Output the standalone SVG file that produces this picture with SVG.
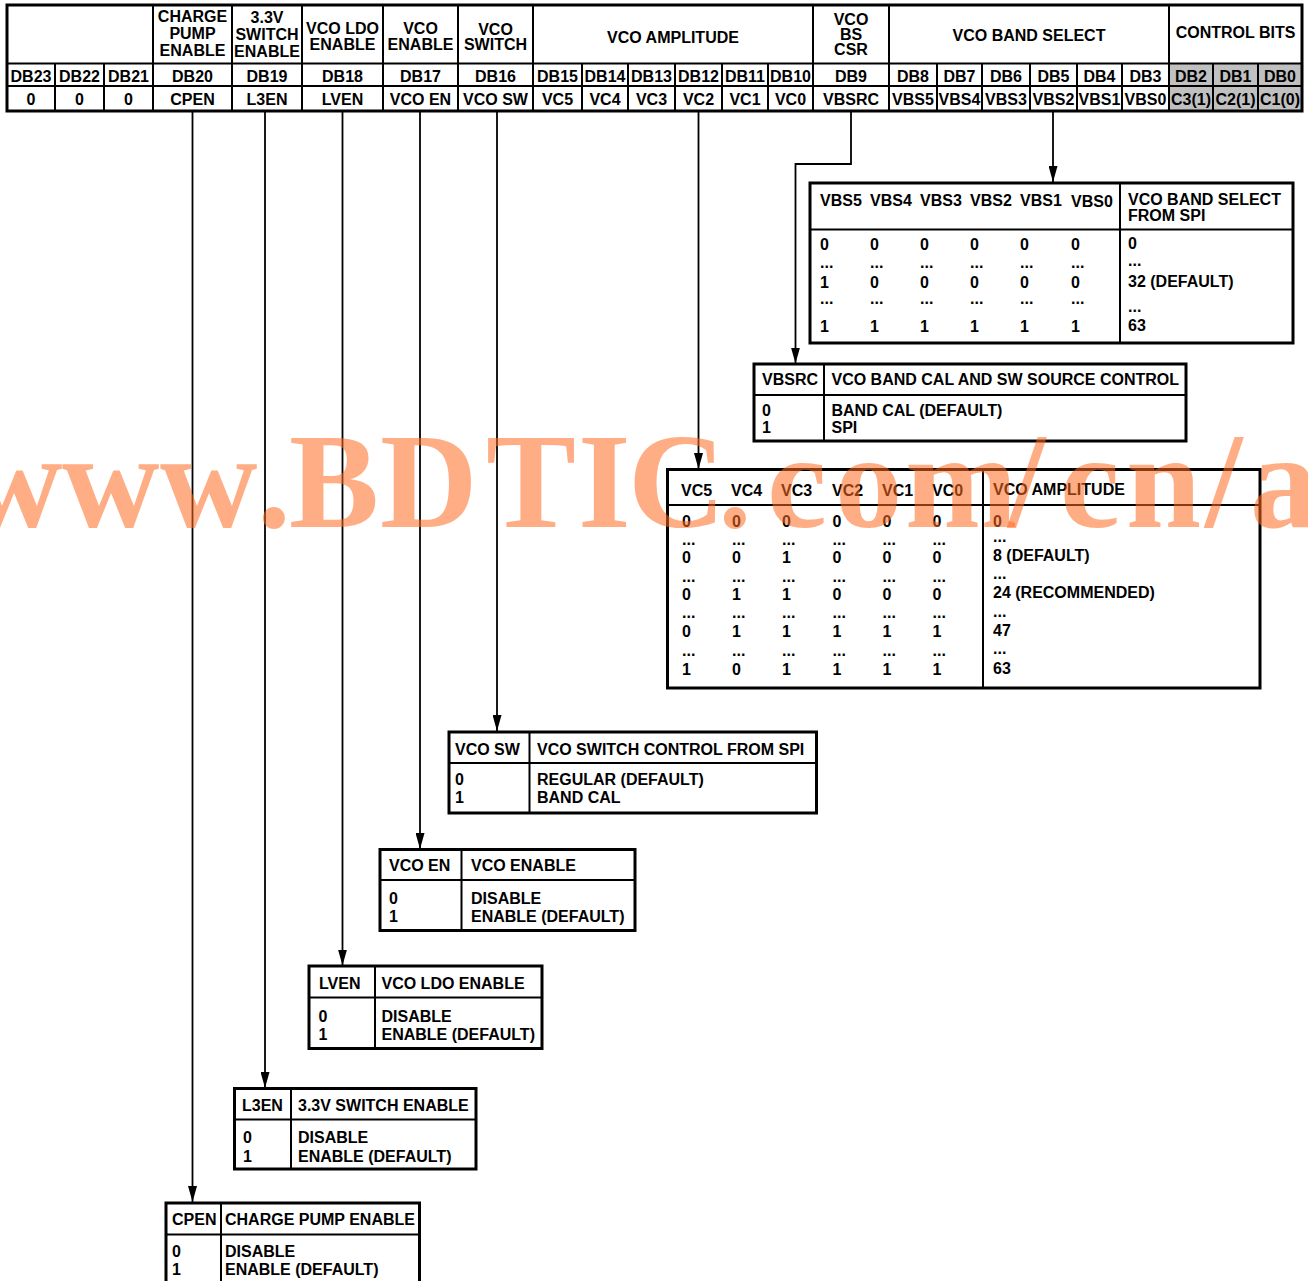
<svg xmlns="http://www.w3.org/2000/svg" width="1308" height="1281" viewBox="0 0 1308 1281">
<style>
text{font-family:"Liberation Sans",Arial,Helvetica,sans-serif;font-weight:bold;font-size:16px;fill:#000}
.m{text-anchor:middle}
.frame{fill:none;stroke:#000;stroke-width:3}
.ln{fill:none;stroke:#000;stroke-width:2}
.conn{fill:none;stroke:#000;stroke-width:1.8}
.gray{fill:#c0c0c0;stroke:none}
.wm{font-family:"Liberation Serif","Times New Roman",serif;font-weight:bold;font-size:135px;fill:#FF6A1F;fill-opacity:0.55}
</style>
<defs>
<marker id="arr" markerUnits="userSpaceOnUse" viewBox="0 0 16 9" refX="16" refY="4.5" markerWidth="16" markerHeight="9" orient="auto">
<path d="M0,0 L16,4.5 L0,9 z" fill="#000"/>
</marker>
</defs>
<rect width="1308" height="1281" fill="#fff"/>

<g id="register">
<rect class="gray" x="1169" y="63.5" width="133" height="47.5"/>
<rect class="frame" x="7" y="5" width="1295" height="106"/>
<path class="ln" d="M7,63.5H1302M7,86H1302"/>
<path class="ln" d="M153,5V111M232,5V111M302,5V111M383,5V111M458,5V111M533,5V111M813,5V111M889,5V111M1169,5V111"/>
<path class="ln" d="M55,63.5V111M104,63.5V111M582,63.5V111M628,63.5V111M675,63.5V111M722,63.5V111M768,63.5V111M937,63.5V111M982,63.5V111M1030,63.5V111M1077,63.5V111M1122,63.5V111M1213,63.5V111M1258,63.5V111"/>
<g class="m">
<text class="m" x="192.5" y="22">CHARGE</text>
<text class="m" x="192.5" y="38.5">PUMP</text>
<text class="m" x="192.5" y="55.5">ENABLE</text>
<text class="m" x="267" y="22.5">3.3V</text>
<text class="m" x="267" y="40">SWITCH</text>
<text class="m" x="267" y="57">ENABLE</text>
<text class="m" x="342.5" y="34">VCO LDO</text>
<text class="m" x="342.5" y="50">ENABLE</text>
<text class="m" x="420.5" y="34">VCO</text>
<text class="m" x="420.5" y="50">ENABLE</text>
<text class="m" x="495.5" y="34.5">VCO</text>
<text class="m" x="495.5" y="50">SWITCH</text>
<text class="m" x="673" y="43">VCO AMPLITUDE</text>
<text class="m" x="851" y="24.5">VCO</text>
<text class="m" x="851" y="39.5">BS</text>
<text class="m" x="851" y="55">CSR</text>
<text class="m" x="1029" y="40.5">VCO BAND SELECT</text>
<text class="m" x="1235.5" y="38">CONTROL BITS</text>
</g>
<text class="m" x="31" y="81.5">DB23</text>
<text class="m" x="79.5" y="81.5">DB22</text>
<text class="m" x="128.5" y="81.5">DB21</text>
<text class="m" x="192.5" y="81.5">DB20</text>
<text class="m" x="267" y="81.5">DB19</text>
<text class="m" x="342.5" y="81.5">DB18</text>
<text class="m" x="420.5" y="81.5">DB17</text>
<text class="m" x="495.5" y="81.5">DB16</text>
<text class="m" x="557.5" y="81.5">DB15</text>
<text class="m" x="605" y="81.5">DB14</text>
<text class="m" x="651.5" y="81.5">DB13</text>
<text class="m" x="698.5" y="81.5">DB12</text>
<text class="m" x="745" y="81.5">DB11</text>
<text class="m" x="790.5" y="81.5">DB10</text>
<text class="m" x="851" y="81.5">DB9</text>
<text class="m" x="913" y="81.5">DB8</text>
<text class="m" x="959.5" y="81.5">DB7</text>
<text class="m" x="1006" y="81.5">DB6</text>
<text class="m" x="1053.5" y="81.5">DB5</text>
<text class="m" x="1099.5" y="81.5">DB4</text>
<text class="m" x="1145.5" y="81.5">DB3</text>
<text class="m" x="1191" y="81.5">DB2</text>
<text class="m" x="1235.5" y="81.5">DB1</text>
<text class="m" x="1280" y="81.5">DB0</text>
<text class="m" x="31" y="104.5">0</text>
<text class="m" x="79.5" y="104.5">0</text>
<text class="m" x="128.5" y="104.5">0</text>
<text class="m" x="192.5" y="104.5">CPEN</text>
<text class="m" x="267" y="104.5">L3EN</text>
<text class="m" x="342.5" y="104.5">LVEN</text>
<text class="m" x="420.5" y="104.5">VCO EN</text>
<text class="m" x="495.5" y="104.5">VCO SW</text>
<text class="m" x="557.5" y="104.5">VC5</text>
<text class="m" x="605" y="104.5">VC4</text>
<text class="m" x="651.5" y="104.5">VC3</text>
<text class="m" x="698.5" y="104.5">VC2</text>
<text class="m" x="745" y="104.5">VC1</text>
<text class="m" x="790.5" y="104.5">VC0</text>
<text class="m" x="851" y="104.5">VBSRC</text>
<text class="m" x="913" y="104.5">VBS5</text>
<text class="m" x="959.5" y="104.5">VBS4</text>
<text class="m" x="1006" y="104.5">VBS3</text>
<text class="m" x="1053.5" y="104.5">VBS2</text>
<text class="m" x="1099.5" y="104.5">VBS1</text>
<text class="m" x="1145.5" y="104.5">VBS0</text>
<text class="m" x="1191" y="104.5">C3(1)</text>
<text class="m" x="1235.5" y="104.5">C2(1)</text>
<text class="m" x="1280" y="104.5">C1(0)</text>
</g>

<g id="connectors">
<path class="conn" marker-end="url(#arr)" d="M192.5,111V1202"/>
<path class="conn" marker-end="url(#arr)" d="M265,111V1088"/>
<path class="conn" marker-end="url(#arr)" d="M342.5,111V965.5"/>
<path class="conn" marker-end="url(#arr)" d="M420,111V849"/>
<path class="conn" marker-end="url(#arr)" d="M497,111V731"/>
<path class="conn" marker-end="url(#arr)" d="M698.5,111V469"/>
<path class="conn" marker-end="url(#arr)" d="M851,111V164H795.5V363.5"/>
<path class="conn" marker-end="url(#arr)" d="M1053,111V182"/>
</g>

<g id="vbs-table">
<rect class="frame" x="810" y="183" width="483" height="160"/>
<path class="ln" d="M810,229.5H1293M1120,183V343"/>
<text x="820" y="206">VBS5</text>
<text x="870" y="206">VBS4</text>
<text x="920" y="206">VBS3</text>
<text x="970" y="206">VBS2</text>
<text x="1020" y="206">VBS1</text>
<text x="1071" y="207">VBS0</text>
<text x="1128" y="205">VCO BAND SELECT</text>
<text x="1128" y="221">FROM SPI</text>
<text x="820" y="250">0</text><text x="870" y="250">0</text><text x="920" y="250">0</text><text x="970" y="250">0</text><text x="1020" y="250">0</text><text x="1071" y="250">0</text>
<text x="820" y="268">...</text><text x="870" y="268">...</text><text x="920" y="268">...</text><text x="970" y="268">...</text><text x="1020" y="268">...</text><text x="1071" y="268">...</text>
<text x="820" y="288">1</text><text x="870" y="288">0</text><text x="920" y="288">0</text><text x="970" y="288">0</text><text x="1020" y="288">0</text><text x="1071" y="288">0</text>
<text x="820" y="304">...</text><text x="870" y="304">...</text><text x="920" y="304">...</text><text x="970" y="304">...</text><text x="1020" y="304">...</text><text x="1071" y="304">...</text>
<text x="820" y="332">1</text><text x="870" y="332">1</text><text x="920" y="332">1</text><text x="970" y="332">1</text><text x="1020" y="332">1</text><text x="1071" y="332">1</text>
<text x="1128" y="249">0</text>
<text x="1128" y="266">...</text>
<text x="1128" y="286.5">32 (DEFAULT)</text>
<text x="1128" y="312">...</text>
<text x="1128" y="331">63</text>
</g>

<g id="vbsrc-table">
<rect class="frame" x="754" y="364" width="432" height="77"/>
<path class="ln" d="M754,395H1186M824,364V441"/>
<text x="762" y="385">VBSRC</text>
<text x="831.5" y="385">VCO BAND CAL AND SW SOURCE CONTROL</text>
<text x="762" y="416">0</text>
<text x="762" y="432.5">1</text>
<text x="831.5" y="416">BAND CAL (DEFAULT)</text>
<text x="831.5" y="432.5">SPI</text>
</g>

<g id="vc-table">
<rect class="frame" x="667.5" y="469.5" width="592.5" height="218.5"/>
<path class="ln" d="M667.5,505H1260M983,469.5V688"/>
<text x="681" y="495.5">VC5</text>
<text x="731" y="495.5">VC4</text>
<text x="781" y="495.5">VC3</text>
<text x="832" y="495.5">VC2</text>
<text x="882" y="495.5">VC1</text>
<text x="932" y="495.5">VC0</text>
<text x="993" y="495">VCO AMPLITUDE</text>
<text x="682" y="527">0</text><text x="732" y="527">0</text><text x="782" y="527">0</text><text x="832.5" y="527">0</text><text x="882.5" y="527">0</text><text x="932.5" y="527">0</text>
<text x="682" y="545">...</text><text x="732" y="545">...</text><text x="782" y="545">...</text><text x="832.5" y="545">...</text><text x="882.5" y="545">...</text><text x="932.5" y="545">...</text>
<text x="682" y="563">0</text><text x="732" y="563">0</text><text x="782" y="563">1</text><text x="832.5" y="563">0</text><text x="882.5" y="563">0</text><text x="932.5" y="563">0</text>
<text x="682" y="581.5">...</text><text x="732" y="581.5">...</text><text x="782" y="581.5">...</text><text x="832.5" y="581.5">...</text><text x="882.5" y="581.5">...</text><text x="932.5" y="581.5">...</text>
<text x="682" y="600">0</text><text x="732" y="600">1</text><text x="782" y="600">1</text><text x="832.5" y="600">0</text><text x="882.5" y="600">0</text><text x="932.5" y="600">0</text>
<text x="682" y="618">...</text><text x="732" y="618">...</text><text x="782" y="618">...</text><text x="832.5" y="618">...</text><text x="882.5" y="618">...</text><text x="932.5" y="618">...</text>
<text x="682" y="637">0</text><text x="732" y="637">1</text><text x="782" y="637">1</text><text x="832.5" y="637">1</text><text x="882.5" y="637">1</text><text x="932.5" y="637">1</text>
<text x="682" y="656">...</text><text x="732" y="656">...</text><text x="782" y="656">...</text><text x="832.5" y="656">...</text><text x="882.5" y="656">...</text><text x="932.5" y="656">...</text>
<text x="682" y="674.5">1</text><text x="732" y="674.5">0</text><text x="782" y="674.5">1</text><text x="832.5" y="674.5">1</text><text x="882.5" y="674.5">1</text><text x="932.5" y="674.5">1</text>
<text x="993" y="527">0</text>
<text x="993" y="541.5">...</text>
<text x="993" y="560.5">8 (DEFAULT)</text>
<text x="993" y="578.5">...</text>
<text x="993" y="598">24 (RECOMMENDED)</text>
<text x="993" y="616.5">...</text>
<text x="993" y="635.5">47</text>
<text x="993" y="654">...</text>
<text x="993" y="674">63</text>
</g>

<g id="vcosw-table">
<rect class="frame" x="449" y="732" width="367.5" height="81"/>
<path class="ln" d="M449,763H816.5M529.5,732V813"/>
<text x="455" y="755">VCO SW</text>
<text x="537" y="755">VCO SWITCH CONTROL FROM SPI</text>
<text x="455" y="785">0</text>
<text x="455" y="802.5">1</text>
<text x="537" y="785">REGULAR (DEFAULT)</text>
<text x="537" y="802.5">BAND CAL</text>
</g>

<g id="vcoen-table">
<rect class="frame" x="380" y="849.5" width="255" height="81"/>
<path class="ln" d="M380,880H635M461.5,849.5V930.5"/>
<text x="389" y="870.5">VCO EN</text>
<text x="471" y="870.5">VCO ENABLE</text>
<text x="389" y="904">0</text>
<text x="389" y="921.5">1</text>
<text x="471" y="904">DISABLE</text>
<text x="471" y="921.5">ENABLE (DEFAULT)</text>
</g>

<g id="lven-table">
<rect class="frame" x="309" y="966" width="233" height="82.5"/>
<path class="ln" d="M309,997.5H542M375,966V1048.5"/>
<text x="319" y="989">LVEN</text>
<text x="381.5" y="989">VCO LDO ENABLE</text>
<text x="318.5" y="1021.5">0</text>
<text x="318.5" y="1040">1</text>
<text x="381.5" y="1021.5">DISABLE</text>
<text x="381.5" y="1040">ENABLE (DEFAULT)</text>
</g>

<g id="l3en-table">
<rect class="frame" x="234.5" y="1088.5" width="241.5" height="80.5"/>
<path class="ln" d="M234.5,1119.5H476M291,1088.5V1169"/>
<text x="242" y="1110.5">L3EN</text>
<text x="298" y="1110.5">3.3V SWITCH ENABLE</text>
<text x="243" y="1143">0</text>
<text x="243" y="1161.5">1</text>
<text x="298" y="1143">DISABLE</text>
<text x="298" y="1161.5">ENABLE (DEFAULT)</text>
</g>

<g id="cpen-table">
<rect class="frame" x="166" y="1203" width="253.5" height="95"/>
<path class="ln" d="M166,1234.5H419.5M221,1203V1298"/>
<text x="172" y="1225">CPEN</text>
<text x="225" y="1225">CHARGE PUMP ENABLE</text>
<text x="172" y="1256.5">0</text>
<text x="172" y="1275">1</text>
<text x="225" y="1256.5">DISABLE</text>
<text x="225" y="1275">ENABLE (DEFAULT)</text>
</g>

<text class="wm" y="527" x="-35 62 160 257 289 380 486 578 628 718 767 835 905 1008 1060 1126 1205 1250">www.BDTIC.com/cn/a</text>
</svg>
